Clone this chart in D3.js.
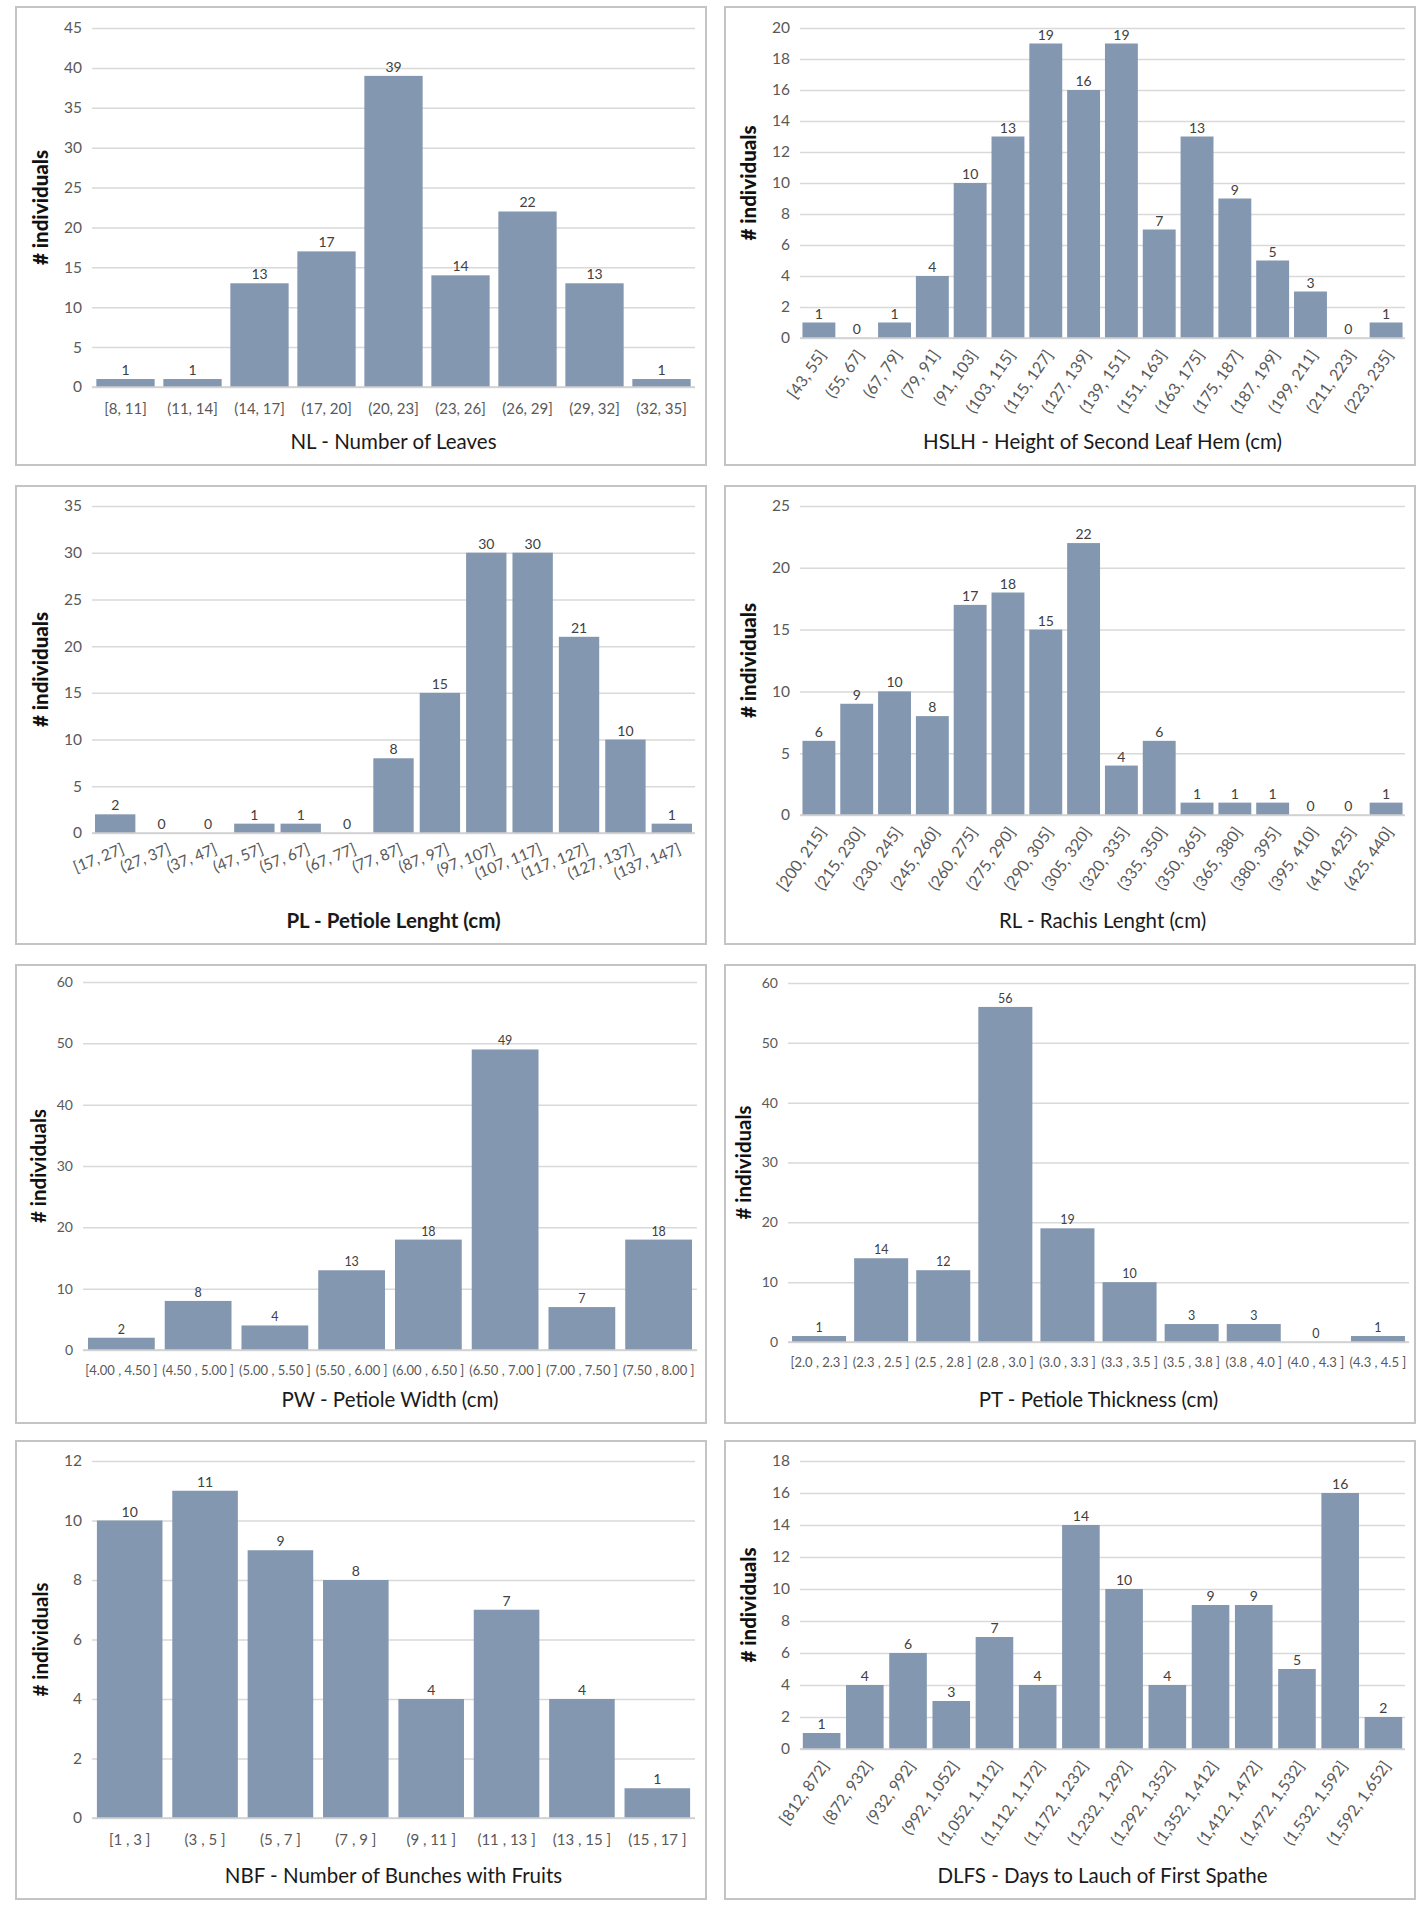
<!DOCTYPE html>
<html>
<head>
<meta charset="utf-8">
<script src="https://cdn.jsdelivr.net/npm/d3@7"></script>
<style>
  body { margin: 0; background: #fff; }
  svg text { font-family: Lato, "Open Sans", sans-serif; }
</style>
</head>
<body>
<div id="chart"></div>
<script>
// Histogram data

// NL - Number of Leaves
var nlBins = ["[8, 11]", "(11, 14]", "(14, 17]", "(17, 20]", "(20, 23]", "(23, 26]", "(26, 29]", "(29, 32]", "(32, 35]"];
var nlCounts = [1, 1, 13, 17, 39, 14, 22, 13, 1];
var nlTicks = [0, 5, 10, 15, 20, 25, 30, 35, 40, 45];

// HSLH - Height of Second Leaf Hem
var hslhBins = ["[43, 55]", "(55, 67]", "(67, 79]", "(79, 91]", "(91, 103]", "(103, 115]", "(115, 127]", "(127, 139]",
  "(139, 151]", "(151, 163]", "(163, 175]", "(175, 187]", "(187, 199]", "(199, 211]", "(211, 223]", "(223, 235]"];
var hslhCounts = [1, 0, 1, 4, 10, 13, 19, 16, 19, 7, 13, 9, 5, 3, 0, 1];
var hslhTicks = [0, 2, 4, 6, 8, 10, 12, 14, 16, 18, 20];

// PL - Petiole Lenght
var plBins = ["[17, 27]", "(27, 37]", "(37, 47]", "(47, 57]", "(57, 67]", "(67, 77]", "(77, 87]", "(87, 97]",
  "(97, 107]", "(107, 117]", "(117, 127]", "(127, 137]", "(137, 147]"];
var plCounts = [2, 0, 0, 1, 1, 0, 8, 15, 30, 30, 21, 10, 1];
var plTicks = [0, 5, 10, 15, 20, 25, 30, 35];

// RL - Rachis Lenght
var rlBins = ["[200, 215]", "(215, 230]", "(230, 245]", "(245, 260]", "(260, 275]", "(275, 290]", "(290, 305]", "(305, 320]",
  "(320, 335]", "(335, 350]", "(350, 365]", "(365, 380]", "(380, 395]", "(395, 410]", "(410, 425]", "(425, 440]"];
var rlCounts = [6, 9, 10, 8, 17, 18, 15, 22, 4, 6, 1, 1, 1, 0, 0, 1];
var rlTicks = [0, 5, 10, 15, 20, 25];

// PW - Petiole Width
var pwBins = ["[4.00 , 4.50 ]", "(4.50 , 5.00 ]", "(5.00 , 5.50 ]", "(5.50 , 6.00 ]", "(6.00 , 6.50 ]", "(6.50 , 7.00 ]", "(7.00 , 7.50 ]", "(7.50 , 8.00 ]"];
var pwCounts = [2, 8, 4, 13, 18, 49, 7, 18];
var pwTicks = [0, 10, 20, 30, 40, 50, 60];

// PT - Petiole Thickness
var ptBins = ["[2.0 , 2.3 ]", "(2.3 , 2.5 ]", "(2.5 , 2.8 ]", "(2.8 , 3.0 ]", "(3.0 , 3.3 ]", "(3.3 , 3.5 ]", "(3.5 , 3.8 ]", "(3.8 , 4.0 ]", "(4.0 , 4.3 ]", "(4.3 , 4.5 ]"];
var ptCounts = [1, 14, 12, 56, 19, 10, 3, 3, 0, 1];
var ptTicks = [0, 10, 20, 30, 40, 50, 60];

// NBF - Number of Bunches with Fruits
var nbfBins = ["[1 , 3 ]", "(3 , 5 ]", "(5 , 7 ]", "(7 , 9 ]", "(9 , 11 ]", "(11 , 13 ]", "(13 , 15 ]", "(15 , 17 ]"];
var nbfCounts = [10, 11, 9, 8, 4, 7, 4, 1];
var nbfTicks = [0, 2, 4, 6, 8, 10, 12];

// DLFS - Days to Lauch of First Spathe
var dlfsBins = ["[812, 872]", "(872, 932]", "(932, 992]", "(992, 1,052]", "(1,052, 1,112]", "(1,112, 1,172]", "(1,172, 1,232]",
  "(1,232, 1,292]", "(1,292, 1,352]", "(1,352, 1,412]", "(1,412, 1,472]", "(1,472, 1,532]", "(1,532, 1,592]", "(1,592, 1,652]"];
var dlfsCounts = [1, 4, 6, 3, 7, 4, 14, 10, 4, 9, 9, 5, 16, 2];
var dlfsTicks = [0, 2, 4, 6, 8, 10, 12, 14, 16, 18];

var titles = [
  "NL  - Number of Leaves",
  "HSLH - Height of Second Leaf Hem (cm)",
  "PL - Petiole Lenght (cm)",
  "RL - Rachis Lenght (cm)",
  "PW - Petiole Width (cm)",
  "PT - Petiole Thickness (cm)",
  "NBF - Number of Bunches with Fruits",
  "DLFS - Days to Lauch of First Spathe"
];

var panels = [
  { bins: nlBins, counts: nlCounts, ticks: nlTicks },
  { bins: hslhBins, counts: hslhCounts, ticks: hslhTicks },
  { bins: plBins, counts: plCounts, ticks: plTicks },
  { bins: rlBins, counts: rlCounts, ticks: rlTicks },
  { bins: pwBins, counts: pwCounts, ticks: pwTicks },
  { bins: ptBins, counts: ptCounts, ticks: ptTicks },
  { bins: nbfBins, counts: nbfCounts, ticks: nbfTicks },
  { bins: dlfsBins, counts: dlfsCounts, ticks: dlfsTicks }
];

// Layout of each panel (page position, plot box inside the panel, label style)
var layout = [
  { x: 16,  y: 7,    l: 76, r: 679, t: 21, b: 380, rot: 0,   catFont: 15,   tickFont: 15.5, valFont: 14,   yTitleX: 25, boldY: true,  boldTitle: false },
  { x: 725, y: 7,    l: 75, r: 680, t: 21, b: 331, rot: -55, catFont: 16,   tickFont: 15.5, valFont: 14,   yTitleX: 24, boldY: true,  boldTitle: false },
  { x: 16,  y: 486,  l: 76, r: 679, t: 20, b: 347, rot: -22, catFont: 15.5, tickFont: 15.5, valFont: 14,   yTitleX: 25, boldY: true,  boldTitle: true },
  { x: 725, y: 486,  l: 75, r: 680, t: 20, b: 329, rot: -55, catFont: 16,   tickFont: 15.5, valFont: 14,   yTitleX: 24, boldY: true,  boldTitle: false },
  { x: 16,  y: 965,  l: 67, r: 681, t: 17, b: 385, rot: 0,   catFont: 13,   tickFont: 14,   valFont: 12.5, yTitleX: 23, boldY: false, boldTitle: false },
  { x: 725, y: 965,  l: 63, r: 684, t: 18, b: 377, rot: 0,   catFont: 13,   tickFont: 14,   valFont: 12.5, yTitleX: 19, boldY: false, boldTitle: false },
  { x: 16,  y: 1441, l: 76, r: 679, t: 20, b: 377, rot: 0,   catFont: 15,   tickFont: 15.5, valFont: 14,   yTitleX: 25, boldY: false, boldTitle: false },
  { x: 725, y: 1441, l: 75, r: 680, t: 20, b: 308, rot: -55, catFont: 16,   tickFont: 15.5, valFont: 14,   yTitleX: 24, boldY: true,  boldTitle: false }
];

var panelW = 690;
var panelH = 458;
var barColor = "#8497B0";
var gridColor = "#d9d9d9";
var labelColor = "#595959";

var svg = d3.select("#chart")
  .append("svg")
  .attr("width", 1423)
  .attr("height", 1909);

panels.forEach(function(p, i) {
  var lo = layout[i];
  var g = svg.append("g")
    .attr("transform", "translate(" + lo.x + "," + lo.y + ")");

  // Panel frame
  g.append("rect")
    .attr("x", 0)
    .attr("y", 0)
    .attr("width", panelW)
    .attr("height", panelH)
    .attr("fill", "#fff")
    .attr("stroke", "#c4c4c4")
    .attr("stroke-width", 2);

  var xScale = d3.scaleBand()
    .domain(p.bins)
    .range([lo.l, lo.r])
    .paddingInner(0.13)
    .paddingOuter(0.065);

  var yScale = d3.scaleLinear()
    .domain([0, d3.max(p.ticks)])
    .range([lo.b, lo.t]);

  // Y axis with gridlines
  var yAxis = d3.axisLeft(yScale)
    .tickValues(p.ticks)
    .tickSize(-(lo.r - lo.l))
    .tickPadding(10);

  var yG = g.append("g")
    .attr("class", "yAxis")
    .attr("transform", "translate(" + lo.l + ",0)")
    .call(yAxis);
  yG.select(".domain").remove();
  yG.selectAll(".tick line")
    .attr("stroke", gridColor)
    .attr("stroke-width", 1.5);
  yG.selectAll(".tick text")
    .attr("fill", labelColor)
    .style("font-size", lo.tickFont + "px");

  // Bars
  g.selectAll("rect.bar")
    .data(p.counts)
    .enter()
    .append("rect")
    .attr("class", "bar")
    .attr("x", function(d, j) { return xScale(p.bins[j]); })
    .attr("y", function(d) { return yScale(d); })
    .attr("width", xScale.bandwidth())
    .attr("height", function(d) { return yScale(0) - yScale(d); })
    .attr("fill", barColor);

  // Baseline
  g.append("line")
    .attr("x1", lo.l)
    .attr("x2", lo.r)
    .attr("y1", yScale(0))
    .attr("y2", yScale(0))
    .attr("stroke", "#cfcfcf")
    .attr("stroke-width", 1.5);

  // Value labels
  g.selectAll("text.val")
    .data(p.counts)
    .enter()
    .append("text")
    .attr("class", "val")
    .attr("x", function(d, j) { return xScale(p.bins[j]) + xScale.bandwidth() / 2; })
    .attr("y", function(d) { return yScale(d) - 4; })
    .attr("text-anchor", "middle")
    .attr("fill", "#404040")
    .style("font-size", lo.valFont + "px")
    .text(function(d) { return d; });

  // X axis (category labels only)
  var xAxis = d3.axisBottom(xScale).tickSize(0).tickPadding(0);
  var xG = g.append("g")
    .attr("class", "xAxis")
    .attr("transform", "translate(0," + lo.b + ")")
    .call(xAxis);
  xG.select(".domain").remove();
  var catText = xG.selectAll(".tick text")
    .attr("fill", labelColor)
    .style("font-size", lo.catFont + "px");
  if (lo.rot === 0) {
    catText.attr("y", lo.catFont + 12).attr("dy", 0);
  } else {
    catText
      .attr("y", 0)
      .attr("dy", 0)
      .attr("text-anchor", "end")
      .attr("transform", lo.rot < -40
        ? "translate(8,17) rotate(" + lo.rot + ")"
        : "translate(10,20) rotate(" + lo.rot + ")");
  }

  // Axis title
  g.append("text")
    .attr("x", (lo.l + lo.r) / 2)
    .attr("y", 442)
    .attr("text-anchor", "middle")
    .attr("fill", "#1a1a1a")
    .style("font-size", "20.5px")
    .style("font-weight", lo.boldTitle ? "bold" : "normal")
    .text(titles[i]);

  // Y title
  g.append("text")
    .attr("transform", "translate(" + lo.yTitleX + "," + ((lo.t + lo.b) / 2) + ") rotate(-90)")
    .attr("dy", "0.35em")
    .attr("text-anchor", "middle")
    .attr("fill", "#111")
    .style("font-size", "20.5px")
    .style("font-weight", lo.boldY ? "900" : "bold")
    .text("# individuals");
});
</script>
</body>
</html>
